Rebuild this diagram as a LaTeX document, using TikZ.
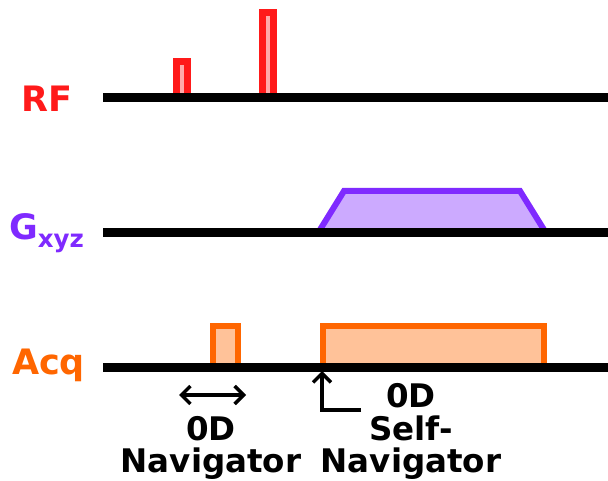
\documentclass[tikz,border=0pt]{standalone}
\usepackage{fontspec}
\setmainfont{DejaVu Sans}
\usetikzlibrary{arrows.meta}
\definecolor{rfred}{HTML}{FF1A1A}
\definecolor{rfpink}{HTML}{FFAAAA}
\definecolor{gpurple}{HTML}{7F2AFF}
\definecolor{gfill}{HTML}{CCAAFF}
\definecolor{aorange}{HTML}{FF6600}
\definecolor{afill}{HTML}{FFC299}
\tikzset{
  axis/.style={line width=9pt, draw=black},
  rfpulse/.style={line width=7pt, draw=rfred, fill=rfpink, line join=miter},
  grad/.style={line width=6pt, draw=gpurple, fill=gfill, line join=miter},
  acqbox/.style={line width=6pt, draw=aorange, fill=afill, line join=miter},
  chan/.style={font=\fontsize{35}{40}\selectfont\bfseries, inner sep=0pt},
  note/.style={font=\fontsize{32.5}{33}\selectfont\bfseries, inner sep=0pt, anchor=base},
  marker/.style={line width=3.5pt, draw=black},
  barb/.tip={Straight Barb[length=9pt,width=18pt,line width=3.5pt]},
}
\begin{document}
\begin{tikzpicture}[x=1pt,y=-1pt]
\useasboundingbox (0,0) rectangle (608,481);
% axes
\coordinate (rfL) at (103,98); \coordinate (rfR) at (608,98);
\coordinate (gL) at (103,233); \coordinate (gR) at (608,233);
\coordinate (aL) at (103,367); \coordinate (aR) at (608,367);
% RF pulses
\draw[rfpulse] (176.5,98) -- (176.5,61.5) -- (187.5,61.5) -- (187.5,98);
\draw[rfpulse] (262.5,98) -- (262.5,12.5) -- (273.5,12.5) -- (273.5,98);
% gradient
\draw[grad] (318,233) -- (344,191) -- (520,191) -- (546,233);
% acquisition
\draw[acqbox] (213,367) -- (213,326) -- (238,326) -- (238,367);
\draw[acqbox] (323,367) -- (323,326) -- (544,326) -- (544,367);
\draw[axis] (rfL) -- (rfR);
\draw[axis] (gL) -- (gR);
\draw[axis] (aL) -- (aR);
% labels
\node[chan, text=rfred, anchor=base] (rf) at (47,112) {RF};
\node[chan, text=gpurple, anchor=base west] (g) at (9,240) {G\raisebox{-8pt}{\fontsize{24.5}{25}\selectfont xyz}};
\node[chan, text=aorange, anchor=base] (acq) at (48.5,374) {Acq};
% navigator arrows
\coordinate (n1) at (179,395); \coordinate (n2) at (246,395);
\draw[marker, barb-barb] (n1) -- (n2);
\coordinate (s0) at (361,410); \coordinate (s1) at (322,410); \coordinate (s2) at (322,371);
\draw[marker, -barb] (s0) -- (s1) -- (s2);
% texts
\node[note] (nav0) at (211,440) {0D};
\node[note] (nav1) at (211,472) {Navigator};
\node[note] (od) at (411,407) {0D};
\node[note] (self) at (411,440) {Self-};
\node[note] (snav) at (411,472) {Navigator};
\end{tikzpicture}
\end{document}
